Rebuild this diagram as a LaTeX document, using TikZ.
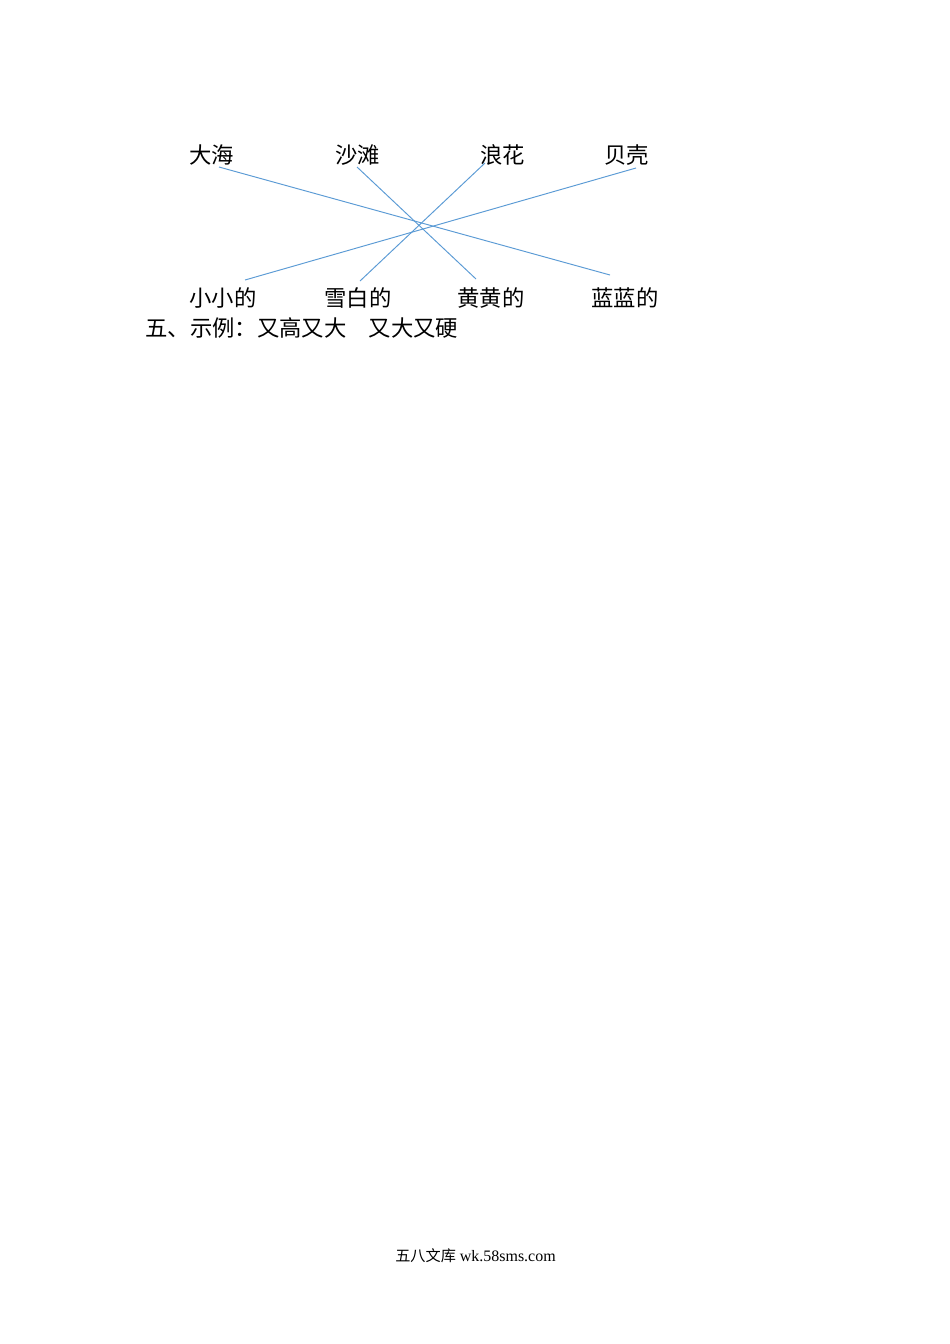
\documentclass[tikz,border=0pt]{standalone}
\usepackage{fontspec}
\setmainfont{Liberation Serif}
\newfontfamily\cjk{Noto Sans CJK SC}
\definecolor{linkblue}{RGB}{91,155,213}
\begin{document}
\begin{tikzpicture}[x=0.6266pt,y=-0.6266pt,
  word/.style={anchor=west,inner sep=0pt,font=\cjk\fontsize{14}{16}\selectfont},
  link/.style={draw=linkblue,line width=0.6pt}]
\useasboundingbox[fill=white] (0,0) rectangle (950,1344);
% top row
\node[word] (dahai)  at (189,155) {大海};
\node[word] (shatan) at (335,155) {沙滩};
\node[word] (langhua) at (480,155) {浪花};
\node[word] (beike) at (604,155) {贝壳};
% bottom row
\node[word] (xiaoxiao) at (189,298) {小小的};
\node[word] (xuebai) at (324,298) {雪白的};
\node[word] (huanghuang) at (457,298) {黄黄的};
\node[word] (lanlan) at (591,298) {蓝蓝的};
% answer line
\node[word] (wu) at (145,328) {五、示例：又高又大　又大又硬};
% connector ends
\coordinate (a1) at (219,167);
\coordinate (a2) at (357,167);
\coordinate (a3) at (485,163);
\coordinate (a4) at (636,168);
\coordinate (b1) at (245,280);
\coordinate (b2) at (360,281);
\coordinate (b3) at (476,279);
\coordinate (b4) at (610,275);
\draw[link] (a1) -- (b4);
\draw[link] (a2) -- (b3);
\draw[link] (a3) -- (b2);
\draw[link] (a4) -- (b1);
% footer
\node[anchor=west,inner sep=0pt,font=\fontsize{10}{12}\selectfont] (footer) at (395,1256) {{\cjk\fontsize{9.5}{12}\selectfont 五八文库} wk.58sms.com};
\end{tikzpicture}
\end{document}
